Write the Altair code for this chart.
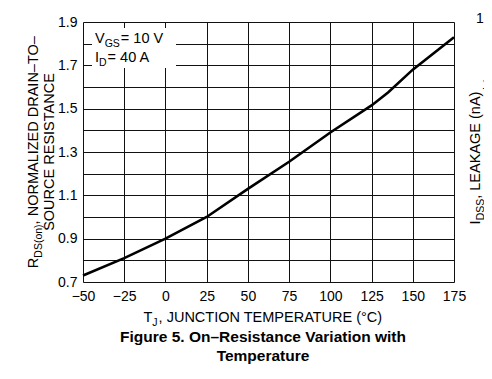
import altair as alt
import pandas as pd

# ---- data ----
temps = [-50, -25, 0, 25, 50, 75, 100, 125, 135, 150, 175]
rds = [0.73, 0.81, 0.90, 1.00, 1.13, 1.255, 1.39, 1.515, 1.575, 1.68, 1.83]
x_ticks = [-50, -25, 0, 25, 50, 75, 100, 125, 150, 175]
y_ticks = [0.7, 0.8, 0.9, 1.0, 1.1, 1.2, 1.3, 1.4, 1.5, 1.6, 1.7, 1.8, 1.9]

FONT = "Liberation Sans"
W, H = 371, 260

# Arial advance widths (per em) for positioning composite text pieces
AW = {' ': .278, ',': .278, '.': .278, '(': .333, ')': .333, '°': .4, '=': .584,
      '–': .556, 'A': .667, 'C': .722, 'D': .722, 'E': .667, 'G': .778, 'I': .278,
      'J': .5, 'K': .667, 'L': .556, 'M': .833, 'N': .722, 'O': .778, 'P': .667,
      'R': .722, 'S': .667, 'T': .611, 'U': .722, 'V': .667, 'Z': .611, 'a': .556,
      'n': .556, 'o': .556}
for d in '0123456789':
    AW[d] = .556


def tw(s, size):
    return sum(AW.get(c, .6) for c in s) * size


one = pd.DataFrame({"a": [0]})


def txt(s, x, y, size=14, angle=0, align="left", baseline="alphabetic", bold=False):
    return alt.Chart(one).mark_text(
        text=s, font=FONT, fontSize=size, angle=angle, align=align,
        baseline=baseline, color="black", fontWeight="bold" if bold else "normal"
    ).encode(x=alt.value(x), y=alt.value(y))


def rich_h(pieces, x0, y, size=14.5, sub=10.5, shift=3.5, center=False):
    """pieces: list of (text, is_sub); horizontal, starting at x0 (or centred on it)"""
    total = sum(tw(t, sub if s else size) for t, s in pieces)
    x = x0 - total / 2 if center else x0
    out = []
    for t, s in pieces:
        fs = sub if s else size
        out.append(txt(t, x, y + (shift if s else 0), fs))
        x += tw(t, fs) + (1 if s else 0)
    return out


def rich_v(pieces, x, cy, size=14.5, sub=10.5, shift=3.5):
    """rotated 270 (reads bottom to top), centred at cy, baseline at x"""
    total = sum(tw(t, sub if s else size) for t, s in pieces)
    y = cy + total / 2
    out = []
    for t, s in pieces:
        fs = sub if s else size
        out.append(txt(t, x + (shift if s else 0), y, fs, angle=270))
        y -= tw(t, fs)
    return out


df = pd.DataFrame({"T": temps, "R": rds})

base = alt.Chart(df)
line = base.mark_line(color="black", strokeWidth=2.6).encode(
    x=alt.X("T:Q", scale=alt.Scale(domain=[-50, 175], nice=False, zero=False),
            axis=alt.Axis(values=x_ticks, title=None, grid=True, ticks=False, domain=False,
                          labelFontSize=14, labelFont=FONT, labelColor="black",
                          labelPadding=7, gridColor="#111", gridWidth=1, gridOpacity=1,
                          labelFlush=False)),
    y=alt.Y("R:Q", scale=alt.Scale(domain=[0.7, 1.9], nice=False, zero=False),
            axis=alt.Axis(values=y_ticks, title=None, grid=True, ticks=False, domain=False,
                          format=".1f",
                          labelExpr="round(datum.value*10) % 2 == 1 ? datum.label : ''",
                          labelFontSize=14, labelFont=FONT, labelColor="black",
                          labelPadding=6, gridColor="#111", gridWidth=1, gridOpacity=1,
                          labelFlush=False)),
)

# white legend box covering the grid
box = alt.Chart(one).mark_rect(color="white").encode(
    x=alt.value(9), x2=alt.value(93), y=alt.value(6), y2=alt.value(46))

layers = [box, line]
layers += rich_h([("V", False), ("GS", True), (" = 10 V", False)], 12, 21)
layers += rich_h([("I", False), ("D", True), (" = 40 A", False)], 12, 40)

# x title
layers += rich_h([("T", False), ("J", True), (", JUNCTION TEMPERATURE (°C)", False)], 180, 300, center=True)
# y title (two lines)
layers += rich_v([("R", False), ("DS(on)", True), (", NORMALIZED DRAIN–TO–", False)], -45, 130)
layers.append(txt("SOURCE RESISTANCE", -29.5, 130, 14.5, angle=270, align="center"))
# right-side clipped axis from the neighbouring figure
layers += rich_v([("I", False), ("DSS", True), (", LEAKAGE (nA)", False)], 397, 136)
layers.append(txt("10", 393, -3, 14, baseline="middle"))
layers.append(txt("1", 399, 63, 14, baseline="middle"))
# caption
layers.append(txt("Figure 5. On–Resistance Variation with", 180, 320, 15.5, align="center", bold=True))
layers.append(txt("Temperature", 180, 339, 15.5, align="center", bold=True))

chart = alt.layer(*layers).properties(
    width=W, height=H,
    autosize=alt.AutoSizeParams(type="none"),
    padding={"left": 75, "top": 14, "right": 30, "bottom": 84},
).configure_view(stroke="black", strokeWidth=1.6).configure(background="white")

chart.save("out.html", embed_options={"renderer": "svg", "actions": False})
